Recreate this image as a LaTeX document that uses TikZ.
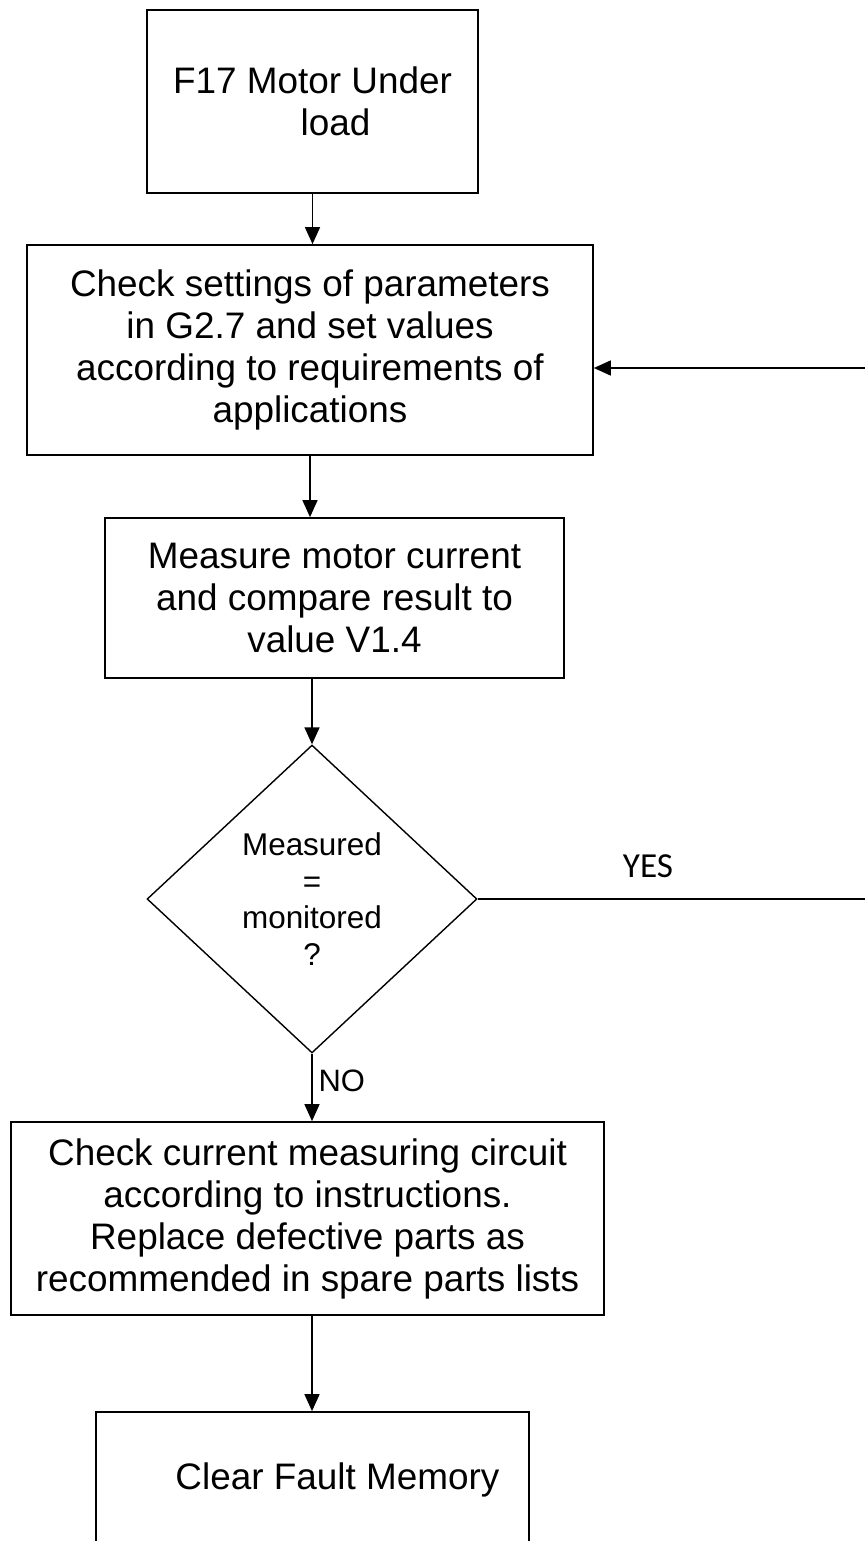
\documentclass[tikz,border=0pt]{standalone}
\usepackage{fontspec}
\setmainfont{Liberation Sans}
\newfontfamily\yesfont{Carlito}
\usetikzlibrary{arrows.meta,shapes.geometric}
\tikzset{
  box/.style={draw, line width=1pt, rectangle, inner sep=0pt, align=center,
    font=\fontsize{21}{23.9}\selectfont},
  decision/.style={draw, line width=0.8pt, diamond, inner sep=0pt, align=center,
    minimum width=6.6cm, minimum height=6.16cm, font=\fontsize{17.9}{20.8}\selectfont},
  flow/.style={line width=0.85pt, -{Triangle[length=0.34cm,width=0.3cm]}}
}

\begin{document}
\begin{tikzpicture}[x=0.02cm, y=-0.02cm]
\clip (0,0) rectangle (865,1541);
\node[box, minimum width=6.62cm, minimum height=3.66cm] (fault) at (312.5,101.5)
  {F17 Motor Under\\\hspace*{1.25em}load};
\node[box, minimum width=11.32cm, minimum height=4.2cm] (settings) at (310,350)
  {Check settings of parameters\\in G2.7 and set values\\according to requirements of\\applications};
\node[box, minimum width=9.18cm, minimum height=3.2cm] (measure) at (334.5,598)
  {Measure motor current\\and compare result to\\value V1.4};
\node[decision] (decide) at (312,899) {Measured\\=\\monitored\\?};
\node[box, minimum width=11.86cm, minimum height=3.86cm] (circuit) at (307.5,1218.5)
  {Check current measuring circuit\\according to instructions.\\Replace defective parts as\\recommended in spare parts lists};
\node[box, minimum width=8.66cm, minimum height=2.72cm] (clear) at (312.5,1480)
  {\hspace*{1.35em}Clear Fault Memory};
\node[font=\yesfont\fontsize{20}{24}\selectfont] (yes) at (648,866) {YES};
\coordinate (loopbot) at (880,899);
\coordinate (looptop) at (880,368);

\draw[flow] (fault.south) -- (fault.south |- settings.north);
\draw[flow] (settings.south) -- (settings.south |- measure.north);
\draw[flow] (measure.south -| decide.north) -- (decide.north);
\draw[flow] (decide.south) -- node[right, pos=0.4, font=\fontsize{17.6}{20}\selectfont] {NO}
  (decide.south |- circuit.north);
\draw[flow] (decide.south |- circuit.south) -- (decide.south |- clear.north);
\draw[flow] (decide.east) -- (loopbot) -- (looptop) -- (settings.east |- looptop);
\end{tikzpicture}
\end{document}
